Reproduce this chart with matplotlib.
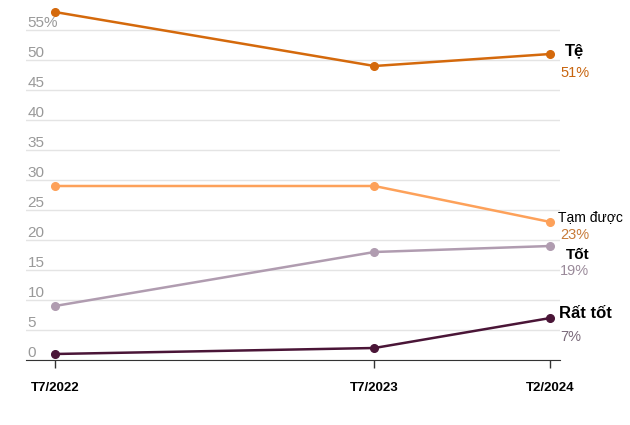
import matplotlib.pyplot as plt
import numpy as np
import pandas as pd

plt.rcParams['font.family'] = ['Liberation Sans', 'DejaVu Sans']

dates = pd.to_datetime(["2022-07-15", "2023-07-15", "2024-02-01"])
date_labels = ["T7/2022", "T7/2023", "T2/2024"]

series_names = ["Tệ", "Tạm được", "Tốt", "Rất tốt"]
te = [58, 49, 51]
tam_duoc = [29, 29, 23]
tot = [9, 18, 19]
rat_tot = [1, 2, 7]

line_colors = ["#d4690c", "#fda15a", "#b09cb0", "#4a1537"]
pct_colors = ["#c8650f", "#c77a38", "#9a8a9a", "#7a6a7a"]
name_sizes = [12, 10, 11, 12]
name_weights = ["bold", "normal", "bold", "bold"]
name_offsets = [(15, 3), (8, 5), (16, -9), (9, 4)]
pct_offsets = [(10, -19), (10, -13), (10, -25), (10, -19)]

yticks = [0, 5, 10, 15, 20, 25, 30, 35, 40, 45, 50, 55]
ytick_labels = [str(v) for v in yticks[:-1]] + ["55%"]

fig = plt.figure(figsize=(6.3, 4.25), dpi=100)
ax = fig.add_axes([26 / 630, 65 / 425, 534 / 630, 360 / 425])

for name, vals, lc, pc, ns, nw, no, po in zip(
        series_names, [te, tam_duoc, tot, rat_tot], line_colors, pct_colors,
        name_sizes, name_weights, name_offsets, pct_offsets):
    ax.plot(dates, vals, color=lc, lw=1.8, marker="o", ms=5.5, clip_on=False, zorder=3)
    ax.annotate(name, (dates[-1], vals[-1]), xytext=no, textcoords="offset pixels",
                ha="left", va="center", fontsize=ns, fontweight=nw, color="black",
                annotation_clip=False)
    ax.annotate(f"{vals[-1]}%", (dates[-1], vals[-1]), xytext=po, textcoords="offset pixels",
                ha="left", va="center", fontsize=10.5, color=pc, annotation_clip=False)

ax.set_ylim(0, 60)
ax.set_xlim(pd.Timestamp("2022-06-12"), pd.Timestamp("2024-02-12"))

ax.set_yticks(yticks)
ax.set_yticklabels(ytick_labels)
ax.tick_params(axis="y", length=0, pad=-1, labelsize=11, labelcolor="#999999")
for lab in ax.get_yticklabels():
    lab.set_horizontalalignment("left")
    lab.set_verticalalignment("bottom")
ax.grid(axis="y", color="#e4e4e4", lw=1)
ax.set_axisbelow(True)

ax.set_xticks(dates)
ax.set_xticklabels(date_labels, fontweight="bold", fontsize=9.5)
ax.tick_params(axis="x", length=6, width=1, color="#333333", pad=10)

for s in ["top", "right", "left"]:
    ax.spines[s].set_visible(False)
ax.spines["bottom"].set_color("#333333")
ax.spines["bottom"].set_zorder(4)

fig.savefig("out.png", dpi=100)
